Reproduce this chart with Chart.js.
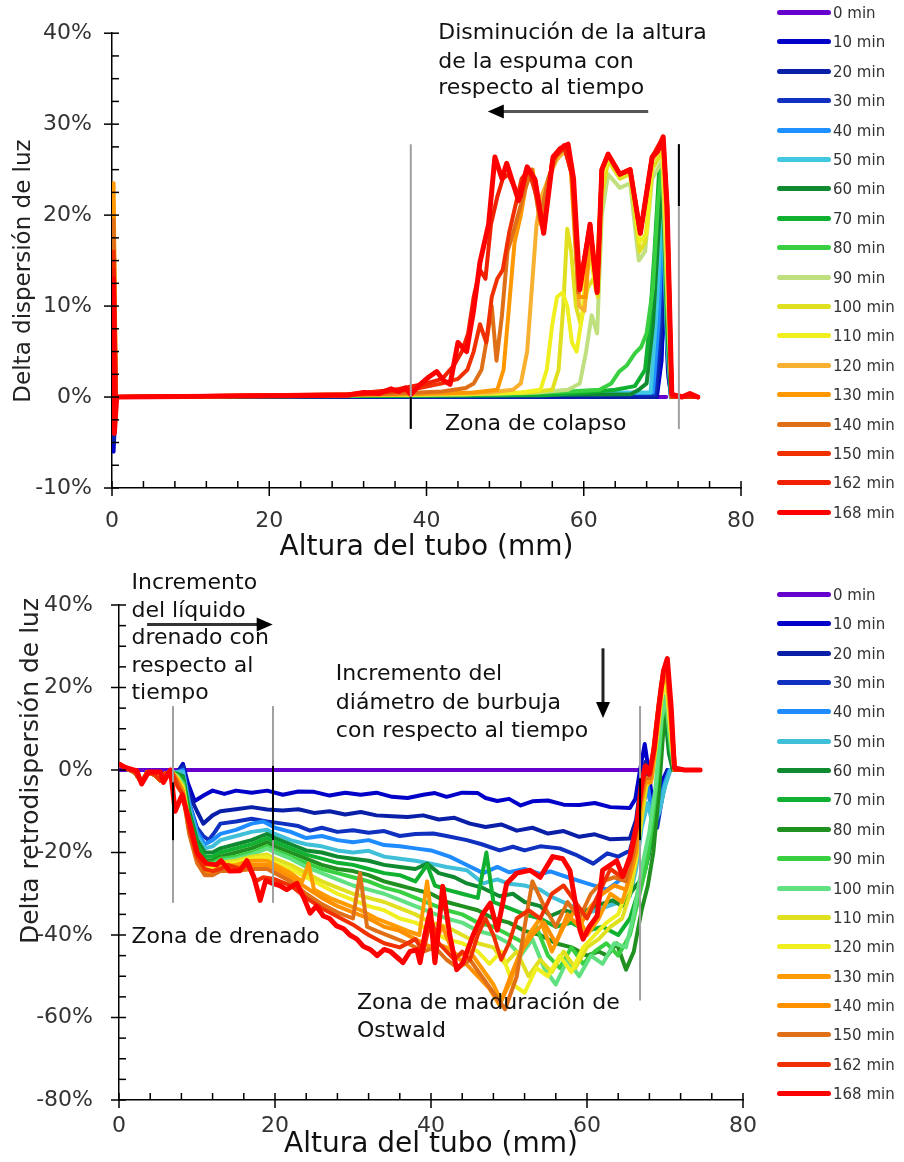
<!DOCTYPE html>
<html lang="es">
<head>
<meta charset="utf-8">
<title>Delta dispersión y retrodispersión de luz</title>
<script src="https://cdn.jsdelivr.net/npm/chart.js@4.4.1/dist/chart.umd.min.js"></script>
<style>
  html, body { margin: 0; padding: 0; background: #fff; }
  #page { position: relative; width: 904px; height: 1162px; overflow: hidden; font-family: "DejaVu Sans", sans-serif; }
  #page canvas { position: absolute; left: 0; }
  .legend { position: absolute; left: 777px; width: 127px; }
  .legend div { position: absolute; left: 0; height: 20px; line-height: 20px; white-space: nowrap; font-size: 15px; color: #333; }
  .legend .swatch { display: inline-block; width: 54px; height: 5px; border-radius: 3px; vertical-align: middle; margin-right: 2px; position: relative; top: -1px; }
</style>
</head>
<body>
<div id="page">
  <canvas id="topChart" width="904" height="565" style="top:0"></canvas>
  <canvas id="bottomChart" width="904" height="597" style="top:565px"></canvas>
  <div id="topLegend" class="legend" style="top:13px"></div>
  <div id="bottomLegend" class="legend" style="top:595px"></div>
</div>
<script>
// tiempos de medida
const timeLabels = ['0 min', '10 min', '20 min', '30 min', '40 min', '50 min', '60 min', '70 min', '80 min',
  '90 min', '100 min', '110 min', '120 min', '130 min', '140 min', '150 min', '162 min', '168 min'];

const topColors = ['#6600cc', '#0000c8', '#0a1fa8', '#1030c0', '#1e90ff', '#40c8e0', '#108a30', '#10b030', '#38d040',
  '#c0e080', '#e0e020', '#f0f020', '#f8b030', '#ff9800', '#e07018', '#f03000', '#f02000', '#ff0000'];
const bottomColors = ['#6600cc', '#0000c8', '#0a1fa8', '#1030c0', '#1e8cff', '#40c0d8', '#108a30', '#10b030', '#209020',
  '#38d040', '#60e080', '#e0e020', '#f0f020', '#ff9a00', '#ff9000', '#e07018', '#f03000', '#ff0000'];

// ---- Delta dispersión de luz: [altura (mm), delta (%)] ----
const t0 = [[0, 0], [70.5, 0]];
const t10 = [[0.2, -6], [0.5, 0], [69.3, 0], [69.9, 4], [70.3, 13], [70.7, 3], [71.1, 0], [74.5, 0]];
const t20 = [[0.2, -5], [0.5, 0], [69.2, 0], [69.8, 6], [70.3, 15], [70.8, 2], [71.2, 0], [74.5, 0]];
const t30 = [[0.2, -4], [0.5, 0], [69, 0.3], [69.7, 8], [70.2, 17], [70.7, 4], [71.1, 0], [74.5, 0]];
const t40 = [[0.2, -3], [0.5, 0], [68.8, 0.5], [69.5, 8], [70.1, 20], [70.7, 5], [71.2, 0], [74.5, 0]];
const t50 = [[0.2, -2], [0.5, 0], [68.5, 0.5], [69.3, 10], [70, 22], [70.6, 6], [71.1, 0], [74.5, 0]];
const t60 = [[0.2, -1], [0.5, 0], [66, 0.3], [67, 0.8], [68, 1.5], [68.8, 8], [69.5, 18], [70, 24], [70.6, 8], [71.1, 0], [74.5, 0]];
const t70 = [[0.2, 0], [55, 0.2], [60, 0.5], [64, 0.8], [66.5, 1.2], [67.8, 3], [68.4, 8], [69, 16], [69.6, 25], [70.2, 24],
  [70.7, 8], [71.2, 0], [74.5, 0]];
const t80 = [[0.2, 0], [50, 0.3], [58, 0.6], [62, 0.8], [63.5, 1.5], [64.5, 2.8], [65.5, 3.5], [66.5, 4.8], [67.3, 5.5],
  [68, 7], [68.8, 12], [69.4, 21], [70, 26], [70.6, 10], [71.2, 0], [74.5, 0]];
const t90 = [[0.2, 0], [45, 0.3], [54, 0.5], [58, 0.8], [59.5, 1.5], [60.3, 5], [61, 9], [61.7, 7], [62.3, 20], [63.1, 24.5],
  [64.6, 23], [65.9, 23.5], [67, 15], [67.8, 16], [68.7, 24], [70, 26], [70.6, 12], [71.2, 0], [74.5, 0]];
const t100 = [[0.2, 0], [45, 0.3], [53, 0.5], [56, 0.8], [56.8, 3], [57.4, 10], [57.9, 18.5], [58.4, 16], [59, 10], [59.6, 8],
  [60.5, 12], [61.2, 13], [61.8, 11], [62.3, 22], [63.1, 26], [64.6, 24], [65.9, 24.5], [67.1, 16], [67.8, 17], [68.7, 25],
  [70, 27], [70.6, 14], [71.2, 0], [74.5, 0]];
const t110 = [[0.2, 0], [40, 0.3], [52, 0.5], [54.5, 0.8], [55.3, 3], [56, 8], [56.6, 11], [57.3, 11.5], [57.9, 10], [58.5, 6],
  [59.1, 5], [59.8, 9], [60.6, 17], [61.5, 12], [62.3, 24], [63.1, 26.5], [64.6, 24.5], [65.9, 25], [67.1, 17], [68, 18],
  [68.7, 26], [70, 27.5], [70.6, 16], [71.2, 0], [74.5, 0]];
const t120 = [[0.2, 21], [0.5, 0], [38, 0.3], [48, 0.5], [51, 0.8], [52, 1.5], [52.8, 5], [53.4, 12], [54, 19], [54.6, 22],
  [55.5, 24], [56.5, 26], [57.5, 27], [58.3, 26], [58.9, 18], [59.4, 10], [60.1, 9.5], [60.8, 17], [61.7, 12], [62.3, 25],
  [63.1, 26.5], [64.6, 24.5], [65.9, 25], [67.2, 18], [68.7, 26], [70.1, 28], [70.6, 18], [71.2, 0], [74.5, 0]];
const t130 = [[0.2, 23.5], [0.5, 0], [36, 0.3], [46, 0.5], [49, 0.8], [49.8, 3], [50.5, 10], [51.2, 17], [52, 20], [52.8, 24],
  [53.5, 25], [54.5, 19], [55.5, 24], [56.5, 26.5], [57.5, 27.5], [58.3, 26], [58.9, 17], [59.4, 11], [60.2, 11], [60.8, 18],
  [61.7, 12], [62.3, 25], [63.1, 26.7], [64.6, 24.5], [65.9, 25], [67.2, 18], [68.7, 26.4], [70.1, 28], [70.6, 19], [71.2, 0],
  [74.5, 0]];
const t140 = [[0.2, 19.5], [0.5, 0], [34, 0.3], [42, 0.6], [45, 1], [46, 1.5], [47, 3], [47.8, 7], [48.3, 10], [48.9, 4],
  [49.6, 9], [50.3, 16], [51, 18], [51.8, 20.5], [52.6, 23], [53.4, 25], [54.4, 19.5], [55.5, 24], [56.5, 26.5], [57.7, 27.5],
  [58.5, 25], [59.3, 11.5], [60.8, 18.5], [61.7, 12], [62.3, 25], [63.1, 26.7], [64.6, 24.5], [65.9, 25], [67.2, 18],
  [68.7, 26.4], [70.1, 28], [70.6, 20], [71.2, 0], [74.5, 0]];
const t150 = [[0.2, 16], [0.5, 0], [32, 0.3], [38, 0.8], [42, 1.5], [44, 2], [45.2, 3], [46, 5], [46.8, 8], [47.6, 6],
  [48.3, 11], [49, 13], [49.7, 14], [50.5, 18], [51.3, 21], [52.1, 24], [53, 25], [54, 22], [54.9, 18.5], [56, 26],
  [57.5, 27.5], [58.5, 24.5], [59.4, 12], [60.8, 19], [61.7, 11.5], [62.3, 25], [63.1, 26.7], [64.6, 24.5], [65.9, 25],
  [67.2, 18], [68.7, 26.4], [70.1, 28.5], [70.6, 21], [71.2, 0], [74.5, 0]];
const t162 = [[0.2, 14], [0.5, 0], [30, 0.3], [36, 0.8], [40, 1.5], [42, 2], [43.5, 3.5], [44.5, 5], [45.3, 7], [46, 11],
  [46.8, 14], [47.5, 13], [48.2, 19], [49, 22], [49.7, 24], [50.4, 24.5], [51.2, 23], [52, 22], [52.8, 25], [53.8, 24],
  [54.9, 18], [56, 26], [57.5, 27.7], [58.6, 24], [59.5, 12], [60.8, 19], [61.7, 11.5], [62.3, 25], [63.1, 26.7],
  [64.6, 24.5], [65.9, 25], [67.2, 18], [68.7, 26.4], [70.1, 28.6], [70.6, 21], [71.2, 0.2], [74.5, 0]];
const t168 = [[0.2, 13], [0.3, -4], [0.6, 0], [30, 0.2], [32, 0.5], [34, 0.4], [35.5, 0.9], [36.5, 0.6], [37.3, 1], [38, 0.3],
  [39.2, 1.4], [40.3, 2.2], [41.3, 2.8], [42.2, 1.8], [43, 1.4], [44, 6], [45.1, 5], [46, 9.6], [46.8, 14.8], [47.9, 19],
  [48.7, 26.4], [49.6, 24], [50.2, 25.7], [51.7, 21.6], [52.8, 25.3], [53.8, 23.9], [54.9, 18], [56.1, 26.4], [57, 27.3],
  [58, 27.8], [58.7, 24], [59.5, 11.8], [60.8, 19], [61.7, 11.5], [62.3, 25], [63.1, 26.7], [64.6, 24.5], [65.9, 25],
  [67.2, 18], [68.7, 26.4], [69.4, 27], [70.1, 28.6], [70.6, 21], [71.2, 0.3], [72.5, 0], [73.5, 0.4], [74.5, 0]];

// ---- Delta retrodispersión de luz: [altura (mm), delta (%)] ----
const bottomStart = [[0, 1.5], [1, 0.3], [2, -0.5], [2.9, -3], [3.6, -0.5], [4.6, -1.2], [5.3, -2.5], [6, -0.8], [6.8, -0.5]];
const b0 = [[0, 0], [66.8, 0]];
const b10 = [...bottomStart, [7.5, -0.5], [8.2, 1.5], [8.8, -3], [9.7, -7.5], [11, -6], [12, -5], [13.5, -5.8], [15, -5],
  [17, -5.5], [19, -5], [21, -6], [23, -5.2], [25, -5.3], [27, -6.2], [29, -5.5], [31, -6], [33, -5.5], [35, -6.5], [37, -6.8],
  [39, -6], [40.5, -5.6], [42, -6.5], [44, -5.5], [46, -5.6], [47, -6.8], [48.5, -7.5], [50, -7], [51.5, -8.6], [53, -7.6],
  [55, -7.4], [57, -8.4], [59, -8.5], [61, -8], [63, -9], [65.5, -9.2], [66.2, -7], [66.8, 0], [67.4, 6.3], [67.9, 0],
  [68.3, -6.5], [69.2, -7], [69.8, -2], [70.3, 0], [74.5, 0]];
const b20 = [...bottomStart, [7.5, -0.5], [8.2, 1], [9, -6], [10, -10], [10.8, -13], [12, -11], [13, -10], [15, -9.5],
  [17, -9], [19, -9.6], [21, -9.8], [23, -9.5], [25, -10.4], [27, -10], [29, -10.8], [31, -10.2], [33, -11], [35, -11.2],
  [37, -11.4], [39, -11], [41, -12], [43, -11.6], [45, -13], [47, -13.8], [49, -13.2], [51, -14.7], [53, -14], [55, -15.4],
  [57, -14.8], [59, -16.2], [61, -15.6], [63, -16.8], [65.5, -16.6], [66.3, -12], [67, -2], [67.5, 2], [68, -6], [68.8, -12],
  [69.5, -8], [70.3, 0], [74.5, 0]];
const b30 = [...bottomStart, [7.5, -0.5], [8.2, 0.5], [9, -8], [10, -14], [10.8, -16], [11.5, -17], [12.3, -15], [13, -13],
  [15, -12.5], [17, -11.8], [19, -12.5], [21, -13], [23, -13.6], [24.5, -14.7], [26, -14], [28, -15], [30, -14.6], [32, -15.2],
  [34, -14.8], [36, -16], [38, -15.5], [40.3, -15.4], [42, -16], [44.6, -17], [46.5, -18], [48.8, -19.5], [50.5, -18.6],
  [52, -19.5], [54, -18.5], [56.5, -19], [58.5, -20.5], [60.8, -22.7], [62.6, -20.2], [64, -21], [65.5, -19.5], [66.3, -14],
  [67, -8], [67.6, -2], [68.3, -10], [69, -14], [69.7, -6], [70.5, 0], [74.5, 0]];
const b40 = [...bottomStart, [7.5, -0.5], [8.2, 0], [9, -8], [10, -15], [11, -18], [12, -17], [13, -15.5], [15, -14.5],
  [17, -13], [18.5, -12.5], [20, -14], [22, -15], [24, -16.5], [26, -16], [28, -17], [30, -17.5], [32, -17], [34, -18.2],
  [36, -18.5], [38, -19], [40, -19.5], [42.4, -21], [44, -22.5], [46.7, -25], [48.5, -23.5], [50, -24.8], [52, -24],
  [54, -25.2], [55.3, -24.6], [57.5, -26], [60, -27.5], [62.6, -29], [64, -27], [65.5, -24.3], [66.3, -18], [67, -10],
  [67.8, -4], [68.5, -12], [69.3, -8], [70, -3], [70.6, 0], [74.5, 0]];
const b50 = [...bottomStart, [7.5, -0.5], [8.2, -0.5], [9, -9], [10, -16], [11, -19], [12, -18.5], [13, -17], [15, -16],
  [17, -15], [19, -14.5], [20, -15.5], [22, -17], [24, -18], [26, -18.5], [28, -19.5], [30, -20], [32, -19.6], [34, -21],
  [36, -21.5], [38, -22], [40, -22.7], [42, -23.5], [44.6, -24.3], [46.7, -27.5], [48.5, -26.5], [50, -27.6], [52, -28],
  [54, -29], [55.3, -30.6], [57.5, -32.5], [60, -34.7], [62, -33.5], [63.8, -32.3], [65.5, -30.6], [66.3, -24], [67, -14],
  [67.8, -8], [68.5, -14], [69.3, -10], [70, -4], [70.7, 0], [74.5, 0]];
const b60 = [...bottomStart, [7.5, -1], [8.2, -1.5], [9, -10], [10, -17], [11, -20], [12, -20], [13, -19], [15, -18],
  [17, -17], [19, -15.5], [20, -16.5], [22, -18], [24, -19.5], [26, -20], [28, -21], [30, -21.5], [32, -22], [34, -23],
  [36, -23.5], [38, -24], [39.5, -22.7], [41, -25], [43, -26], [44.6, -27.5], [46.5, -28.5], [48.8, -30.6], [50.5, -30],
  [52, -32], [54, -33], [55.3, -35.4], [57, -34], [59, -35], [61, -33], [63.3, -31.6], [64.5, -33], [65.5, -30], [66.3, -28],
  [67.2, -26], [68, -20], [68.8, -8], [69.5, 8], [70, 14], [70.5, 4], [71, 0], [74.5, 0]];
const b70 = [...bottomStart, [7.5, -1], [8.2, -2], [9, -11], [10, -18], [11, -21], [12, -21], [13, -20], [15, -19],
  [17, -18], [19, -16.5], [20, -17.5], [22, -19], [24, -20.5], [26, -21.5], [28, -22.5], [30, -23], [32, -24], [34, -25],
  [36, -25.5], [38, -27], [39.5, -23], [40.5, -28], [42, -29], [44, -30], [46, -31], [47.1, -20], [48, -32], [50, -33.5],
  [52, -35], [54, -36], [56, -38], [58, -37], [60, -39], [62, -38], [64, -40], [65.5, -36], [66.5, -30], [67.5, -24],
  [68.3, -16], [69, -4], [69.7, 12], [70.2, 16], [70.7, 5], [71.2, 0], [74.5, 0]];
const b80 = [...bottomStart, [7.5, -1], [8.2, -2.5], [9, -12], [10, -19], [11, -22], [12, -22], [13, -21], [15, -20],
  [17, -19], [19, -17.5], [20, -18.5], [22, -20], [24, -21.5], [26, -23], [28, -24], [30, -24.5], [32, -25.5], [34, -27],
  [36, -28], [38, -29], [40, -30], [42, -32], [44, -33], [46, -34], [48, -36], [50, -37], [52, -39], [54, -40], [56, -42],
  [58, -43], [60, -45], [61.5, -44], [62.6, -45], [63.8, -42], [65, -48.4], [66, -44], [67, -34], [67.8, -28], [68.5, -20],
  [69.2, -6], [69.8, 10], [70.3, 14], [70.8, 4], [71.3, 0], [74.5, 0]];
const b90 = [...bottomStart, [7.5, -1.5], [8.2, -3], [9, -12.5], [10, -19.5], [11, -22.5], [12, -22.5], [13, -21.5],
  [15, -21], [17, -20], [19, -18.5], [20, -19.5], [22, -21], [24, -22.5], [26, -24], [28, -25], [30, -26], [32, -27],
  [34, -28.5], [36, -29.5], [38, -31], [40, -32.5], [42, -34], [44, -35], [46, -37], [48, -38], [50, -40], [52, -42],
  [53.5, -38], [55, -45], [56.5, -48], [58, -43], [59.5, -47], [61, -44], [62.5, -42], [64, -45], [65.5, -40], [66.5, -32],
  [67.5, -24], [68.3, -14], [69, -2], [69.6, 12], [70.2, 18], [70.7, 6], [71.2, 0], [74.5, 0]];
const b100 = [...bottomStart, [7.5, -1.5], [8.2, -3.5], [9, -13], [10, -20], [11, -23], [12, -23], [13, -22], [15, -21.5],
  [17, -20.5], [19, -19], [20, -20], [22, -21.5], [24, -23.5], [26, -25], [28, -26.5], [30, -28], [32, -29], [34, -30],
  [36, -31.5], [38, -33], [40, -34.5], [42, -36], [44, -37], [46, -39], [48, -40], [50, -42], [51.5, -45], [53, -41],
  [54.5, -48], [56, -52], [57.5, -46], [59, -50], [60.5, -45], [62, -47], [63.5, -42], [65, -43], [66, -35], [67, -24],
  [68, -15], [68.8, -4], [69.5, 12], [70.1, 18], [70.6, 8], [71.2, 0], [74.5, 0]];
const b110 = [...bottomStart, [7.5, -2], [8.2, -4], [9, -13.5], [10, -20.5], [11, -23.5], [12, -23.5], [13, -22.5],
  [15, -22], [17, -21], [19, -20.5], [20, -21.5], [22, -23], [24, -25], [26, -27], [28, -28.5], [30, -30], [32, -31],
  [34, -32], [36, -33.5], [38, -35], [40, -37], [42, -38], [44, -40], [46, -42], [48, -43], [49.5, -47], [51, -44],
  [52.5, -50], [54, -46], [55.5, -49], [57, -44], [58.5, -48], [60, -43], [61.5, -41], [63, -38], [64.5, -36], [65.5, -30],
  [66.3, -22], [67, -12], [67.6, -4], [68.3, -2], [69, 8], [69.6, 18], [70.2, 22], [70.7, 10], [71.2, 0], [74.5, 0]];
const b120 = [...bottomStart, [7.5, -2], [8.2, -4.5], [9, -14], [10, -21], [11, -24], [12, -24], [13, -23], [15, -22.5],
  [17, -21.5], [19, -21], [20, -22.5], [22, -24], [24, -26], [26, -28], [28, -30], [30, -31.5], [32, -33], [34, -34],
  [36, -36], [38, -37], [40, -39], [42, -41], [44, -42], [46, -44], [47.5, -47], [49, -44], [50.5, -52], [52, -54],
  [53.5, -48], [55, -50], [56.5, -45], [58, -49], [59.5, -43], [61, -40], [62.5, -37], [64, -35], [65.3, -28], [66.2, -22],
  [66.9, -10], [67.5, -3], [68.2, -2], [68.9, 8], [69.5, 18], [70.1, 22], [70.7, 10], [71.2, 0], [74.5, 0]];
const b130 = [...bottomStart, [7.5, -2.5], [8.2, -5], [9, -14.5], [10, -21.5], [11, -24.5], [12, -24.5], [13, -23.5],
  [15, -23], [17, -22], [19, -22], [20, -23], [22, -25], [23.5, -27], [24.3, -22.7], [25, -29], [27, -31], [29, -32.5],
  [31, -34], [33, -36], [35, -37.5], [37, -39], [38.5, -40], [39.5, -27], [40.5, -42], [42, -43], [43.5, -45], [45, -44],
  [46.5, -48], [48, -52], [49, -56], [50, -52], [51, -47], [52.5, -40], [54, -36], [55.5, -44], [57, -38], [58.5, -34],
  [60, -40], [61.5, -36], [63, -30], [64.5, -32], [65.5, -26], [66.3, -20], [67, -8], [67.6, -2], [68.3, -2], [69, 10],
  [69.6, 20], [70.2, 24], [70.8, 10], [71.3, 0], [74.5, 0]];
const b140 = [...bottomStart, [7.5, -2.5], [8.2, -5.5], [9, -15], [10, -22], [11, -25], [12, -25], [13, -24], [15, -23.5],
  [17, -23], [19, -23], [20, -24], [22, -26], [24, -28.5], [26, -31], [28, -33], [30, -34.5], [32, -36], [34, -38],
  [36, -39], [38, -41], [40, -43], [41.5, -38], [43, -45], [44.5, -47], [46, -50], [47.5, -53], [48.8, -57], [50, -51],
  [51.5, -44], [53, -40], [54.5, -37], [56, -42], [57.5, -35], [59, -38], [60.5, -33], [62, -30], [63.5, -28], [65, -29],
  [66, -22], [66.8, -10], [67.4, -3], [68.2, -3], [68.9, 10], [69.5, 20], [70.2, 25], [70.8, 12], [71.3, 0], [74.5, 0]];
const b150 = [...bottomStart, [7.5, -3], [8.2, -6], [9, -15.5], [10, -22.5], [11, -25.5], [12, -25.5], [13, -24.5],
  [15, -24.5], [17, -24], [19, -24], [20, -25], [22, -27], [24, -30], [26, -32.5], [28, -34.5], [30, -36], [30.9, -25],
  [31.8, -38], [33, -39], [35, -40.5], [37, -42], [39, -44], [40.5, -43], [42, -46], [43.5, -48], [45, -46], [46.5, -50],
  [48, -54], [49.5, -58], [51, -50], [52, -38], [53, -27], [54.5, -33], [56, -38], [57.5, -32], [59, -36], [60.5, -30],
  [62, -27], [63.5, -26], [65, -27], [66, -20], [66.8, -8], [67.4, -2], [68.1, -2], [68.8, 10], [69.5, 21], [70.2, 25],
  [70.8, 12], [71.3, 0], [74.5, 0]];
const b162 = [...bottomStart, [7.5, -4], [8.2, -6], [9, -14], [10, -21], [11, -24], [12, -24.5], [13, -24], [14, -23],
  [15.5, -24], [16.5, -23], [17.5, -27], [18.5, -26], [20, -26.5], [22, -28], [24, -31], [26, -33.5], [28, -35.5],
  [30, -37.5], [32, -40], [34, -42], [36, -43], [38, -41], [39, -44], [40, -36], [41, -42], [42, -44], [43, -46], [44, -44],
  [45, -46], [46, -40], [47, -36], [48, -40], [49, -46], [50, -42], [51, -36], [52.5, -34], [54, -36], [55.5, -30], [57, -28],
  [58.5, -32], [60, -36], [61.5, -30], [63, -24], [64.5, -26], [65.5, -22], [66.4, -14], [67, -5], [67.5, 0], [68, -1],
  [68.6, 6], [69.2, 16], [69.8, 24], [70.3, 26], [70.8, 14], [71.2, 0], [74.5, 0]];
const b168 = [[0, 1.4], [1, 0.5], [2.3, -0.2], [2.9, -3.4], [3.8, -0.5], [5.3, -0.5], [5.7, -3], [6.6, 0], [7.2, -10],
  [8.1, -6], [9.1, -13], [10, -20], [11.2, -22.7], [12.5, -23], [13.1, -22], [14.2, -24.5], [15.5, -24.4], [16.4, -22],
  [17.3, -26], [18.1, -31.6], [18.8, -26.8], [19.7, -27.5], [20.6, -28], [21.5, -29], [22.8, -27.5], [23.7, -31],
  [24.5, -34.7], [25.3, -33], [26.2, -35.4], [27, -36], [27.9, -37.8], [28.8, -38.5], [29.6, -40], [30.5, -41], [31.3, -42.7],
  [32.2, -43.5], [33.1, -45], [34, -43.5], [34.8, -44], [36, -46], [36.4, -46.7], [37.3, -44], [38.2, -43.6], [38.6, -46.7],
  [39.2, -40], [39.9, -34], [40.5, -46.7], [41, -38], [41.5, -28.2], [42.4, -40], [43.3, -48.4], [44.1, -46.7], [45.4, -40],
  [46.7, -34.7], [47.6, -32.3], [48.5, -38.8], [49.7, -27.5], [51, -25], [52.7, -24.3], [54, -26], [55.6, -21], [56.9, -21.5],
  [57.8, -24.3], [59.1, -38.8], [59.5, -41], [60.3, -38], [61.3, -35.4], [62, -24.3], [63.8, -22], [64.6, -25.8], [65.5, -21],
  [66.4, -13], [67, -3], [67.5, 1], [68, -1], [68.6, 5], [69.2, 15], [69.8, 24], [70.3, 27], [70.8, 15], [71.2, 0.5],
  [72.5, 0], [74.5, 0]];

const topSeries = [t0, t10, t20, t30, t40, t50, t60, t70, t80, t90, t100, t110, t120, t130, t140, t150, t162, t168];
const bottomSeries = [b0, b10, b20, b30, b40, b50, b60, b70, b80, b90, b100, b110, b120, b130, b140, b150, b162, b168];

Chart.defaults.font.family = '"DejaVu Sans", sans-serif';
Chart.defaults.color = '#333';

const annFont = '22px "DejaVu Sans", sans-serif';

// ticks, lineas de zona, flechas y textos
const decorPlugin = {
  id: 'decor',
  afterDraw(chart, args, opts) {
    const { ctx, chartArea: a, scales: { x, y } } = chart;
    ctx.save();
    ctx.strokeStyle = '#000';
    ctx.lineWidth = 1.5;
    for (let v = y.min; v <= y.max + 1e-6; v += opts.yMinor) {
      const py = y.getPixelForValue(v);
      const major = Math.abs(v / opts.yMajor - Math.round(v / opts.yMajor)) < 1e-6;
      ctx.beginPath();
      ctx.moveTo(a.left - (major ? 8 : 0), py);
      ctx.lineTo(a.left + 7, py);
      ctx.stroke();
    }
    for (let v = x.min; v <= x.max + 1e-6; v += opts.xMinor) {
      const px = x.getPixelForValue(v);
      const major = Math.abs(v / opts.xMajor - Math.round(v / opts.xMajor)) < 1e-6;
      ctx.beginPath();
      ctx.moveTo(px, a.bottom + (major ? 8 : 0));
      ctx.lineTo(px, a.bottom - 7);
      ctx.stroke();
    }

    // lineas verticales de zonas
    ctx.lineCap = 'butt';
    opts.vlines.forEach((l) => {
      const px = x.getPixelForValue(l.x);
      ctx.lineWidth = 2;
      ctx.strokeStyle = '#a0a0a0';
      ctx.beginPath();
      ctx.moveTo(px, y.getPixelForValue(l.from));
      ctx.lineTo(px, y.getPixelForValue(l.to));
      ctx.stroke();
      ctx.strokeStyle = '#000';
      ctx.beginPath();
      ctx.moveTo(px, y.getPixelForValue(l.darkFrom));
      ctx.lineTo(px, y.getPixelForValue(l.darkTo));
      ctx.stroke();
    });

    // flechas
    opts.arrows.forEach((ar) => {
      const x1 = x.getPixelForValue(ar.x1), y1 = y.getPixelForValue(ar.y1);
      const x2 = x.getPixelForValue(ar.x2), y2 = y.getPixelForValue(ar.y2);
      const ang = Math.atan2(y2 - y1, x2 - x1);
      const head = 16;
      ctx.strokeStyle = ar.color;
      ctx.lineWidth = 3;
      ctx.beginPath();
      ctx.moveTo(x1, y1);
      ctx.lineTo(x2 - Math.cos(ang) * head * 0.8, y2 - Math.sin(ang) * head * 0.8);
      ctx.stroke();
      ctx.fillStyle = '#000';
      ctx.beginPath();
      ctx.moveTo(x2, y2);
      ctx.lineTo(x2 - Math.cos(ang) * head + Math.sin(ang) * 7, y2 - Math.sin(ang) * head - Math.cos(ang) * 7);
      ctx.lineTo(x2 - Math.cos(ang) * head - Math.sin(ang) * 7, y2 - Math.sin(ang) * head + Math.cos(ang) * 7);
      ctx.closePath();
      ctx.fill();
    });

    // textos
    ctx.fillStyle = '#111';
    ctx.font = annFont;
    ctx.textAlign = 'left';
    ctx.textBaseline = 'middle';
    opts.texts.forEach((t) => {
      ctx.fillText(t.text, x.getPixelForValue(t.x), y.getPixelForValue(t.y));
    });

    // titulo del eje y
    ctx.save();
    ctx.translate(opts.yTitle.left, opts.yTitle.center);
    ctx.rotate(-Math.PI / 2);
    ctx.textAlign = 'center';
    ctx.fillStyle = '#222';
    ctx.font = opts.yTitle.size + 'px "DejaVu Sans", sans-serif';
    ctx.fillText(opts.yTitle.text, 0, 0);
    ctx.restore();
    ctx.restore();
  },
};

function makeChart(id, series, colors, cfg) {
  const n = series.length;
  return new Chart(document.getElementById(id), {
    type: 'line',
    data: {
      datasets: series.map((s, i) => ({
        label: timeLabels[i],
        data: s,
        borderColor: colors[i],
        borderWidth: i === n - 1 ? 5 : 4,
        pointRadius: 0,
        tension: 0,
        borderJoinStyle: 'round',
        borderCapStyle: 'round',
        order: n - 1 - i,
      })),
    },
    options: {
      responsive: false,
      animation: false,
      events: [],
      layout: { padding: cfg.padding },
      scales: {
        x: {
          type: 'linear',
          min: 0,
          max: 80,
          grid: { display: false, drawTicks: false },
          border: { display: true, color: '#000', width: 1.5 },
          ticks: { stepSize: 20, padding: cfg.xPad, font: { size: 22 }, color: '#333' },
          title: { display: true, text: 'Altura del tubo (mm)', font: { size: 28 }, color: '#111', padding: 0 },
          afterFit: (scale) => { scale.height = cfg.xHeight; },
        },
        y: {
          type: 'linear',
          min: cfg.yMin,
          max: cfg.yMax,
          grid: { display: false, drawTicks: false },
          border: { display: true, color: '#000', width: 1.5 },
          ticks: { stepSize: cfg.yMajor, padding: cfg.yPad, font: { size: 22 }, color: '#333', callback: (v) => v + '%' },
          afterFit: (scale) => { scale.width = cfg.yWidth; },
        },
      },
      plugins: {
        legend: { display: false },
        tooltip: { enabled: false },
        decor: cfg.decor,
      },
    },
    plugins: [decorPlugin],
  });
}

makeChart('topChart', topSeries, topColors, {
  padding: { left: 0, top: 28, right: 163, bottom: 0 },
  yWidth: 112, xHeight: 77, xPad: 20, yPad: 20,
  yMin: -10, yMax: 40, yMajor: 10,
  decor: {
    yMajor: 10, yMinor: 2.5, xMajor: 20, xMinor: 4,
    yTitle: { text: 'Delta dispersión de luz', left: 24, center: 271, size: 23 },
    vlines: [
      { x: 38, from: 27.8, to: -3.5, darkFrom: 0, darkTo: -3.5 },
      { x: 72.1, from: 27.8, to: -3.5, darkFrom: 27.8, darkTo: 21 },
    ],
    arrows: [{ x1: 68.2, y1: 31.4, x2: 47.8, y2: 31.4, color: '#555' }],
    texts: [
      { text: 'Disminución de la altura', x: 41.5, y: 40.0 },
      { text: 'de la espuma con', x: 41.5, y: 36.85 },
      { text: 'respecto al tiempo', x: 41.5, y: 33.9 },
      { text: 'Zona de colapso', x: 42.35, y: -3.0 },
    ],
  },
});

makeChart('bottomChart', bottomSeries, bottomColors, {
  padding: { left: 0, top: 40, right: 161, bottom: 0 },
  yWidth: 119, xHeight: 62, xPad: 13, yPad: 26,
  yMin: -80, yMax: 40, yMajor: 20,
  decor: {
    yMajor: 20, yMinor: 5, xMajor: 20, xMinor: 4,
    yTitle: { text: 'Delta retrodispersión de luz', left: 31, center: 771 - 565, size: 25 },
    vlines: [
      { x: 6.92, from: 15.5, to: -32.2, darkFrom: -3, darkTo: -17 },
      { x: 19.74, from: 15.5, to: -32.2, darkFrom: 1, darkTo: -17 },
      { x: 66.8, from: 15.5, to: -55.9, darkFrom: -2, darkTo: -17 },
    ],
    arrows: [
      { x1: 3.6, y1: 35.3, x2: 19.7, y2: 35.3, color: '#333' },
      { x1: 62.05, y1: 29.5, x2: 62.05, y2: 12.6, color: '#222' },
    ],
    texts: [
      { text: 'Incremento', x: 1.6, y: 45.2 },
      { text: 'del líquido', x: 1.6, y: 38.5 },
      { text: 'drenado con', x: 1.6, y: 31.9 },
      { text: 'respecto al', x: 1.6, y: 25.2 },
      { text: 'tiempo', x: 1.6, y: 18.6 },
      { text: 'Incremento del', x: 27.8, y: 23.2 },
      { text: 'diámetro de burbuja', x: 27.8, y: 16.2 },
      { text: 'con respecto al tiempo', x: 27.8, y: 9.4 },
      { text: 'Zona de drenado', x: 1.6, y: -40.6 },
      { text: 'Zona de maduración de', x: 30.5, y: -56.6 },
      { text: 'Ostwald', x: 30.5, y: -63.4 },
    ],
  },
});

// leyendas
function buildLegend(id, colors, step) {
  const box = document.getElementById(id);
  timeLabels.forEach((lab, i) => {
    const row = document.createElement('div');
    row.style.top = (i * step - 10) + 'px';
    row.innerHTML = '<span class="swatch" style="background:' + colors[i] + '"></span>' + lab;
    box.appendChild(row);
  });
}
buildLegend('topLegend', topColors, 29.4);
buildLegend('bottomLegend', bottomColors, 29.35);
</script>
</body>
</html>
